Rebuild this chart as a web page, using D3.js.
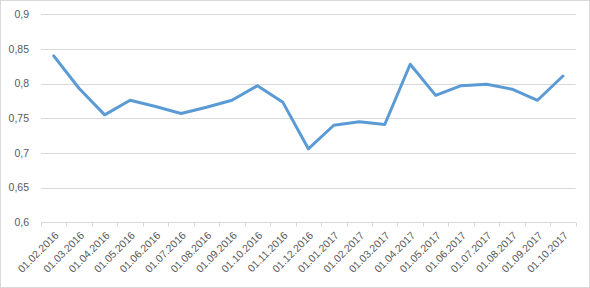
<!DOCTYPE html>
<html>
<head>
<meta charset="utf-8">
<script src="https://cdn.jsdelivr.net/npm/d3@7"></script>
<style>
  body { margin: 0; background: #fff; }
  svg { display: block; font-family: "Liberation Sans", Arial, sans-serif; }
</style>
</head>
<body>
<svg id="chart" width="590" height="288"></svg>
<script>
// categories (first day of each month)
const dates = [
  "01.02.2016", "01.03.2016", "01.04.2016", "01.05.2016", "01.06.2016",
  "01.07.2016", "01.08.2016", "01.09.2016", "01.10.2016", "01.11.2016",
  "01.12.2016", "01.01.2017", "01.02.2017", "01.03.2017", "01.04.2017",
  "01.05.2017", "01.06.2017", "01.07.2017", "01.08.2017", "01.09.2017",
  "01.10.2017"
];
const values = [
  0.840, 0.793, 0.755, 0.776, 0.767,
  0.757, 0.766, 0.776, 0.797, 0.773,
  0.706, 0.740, 0.745, 0.741, 0.828,
  0.783, 0.797, 0.799, 0.792, 0.776,
  0.811
];
const yTicks = [0.6, 0.65, 0.7, 0.75, 0.8, 0.85, 0.9];

const svg = d3.select("#chart");
const width = 590, height = 288;
const margin = { top: 14.3, right: 14.3, bottom: 65.7, left: 41 };

// chart border
svg.append("rect")
  .attr("x", 0.5).attr("y", 0.5)
  .attr("width", width - 1).attr("height", height - 1)
  .attr("fill", "#fff")
  .attr("stroke", "#d9d9d9");

const x = d3.scaleBand()
  .domain(dates)
  .range([margin.left, width - margin.right])
  .paddingInner(0).paddingOuter(0);

const y = d3.scaleLinear()
  .domain([0.6, 0.9])
  .range([height - margin.bottom, margin.top]);

const fmt = d3.formatLocale({ decimal: ",", thousands: " ", grouping: [3], currency: ["", ""] }).format("~g");

// gridlines
svg.append("g")
  .selectAll("line")
  .data(yTicks.slice(1))
  .join("line")
  .attr("x1", margin.left).attr("x2", width - margin.right)
  .attr("y1", d => Math.round(y(d)) + 0.5).attr("y2", d => Math.round(y(d)) + 0.5)
  .attr("stroke", "#d9d9d9");

// y labels
svg.append("g")
  .selectAll("text")
  .data(yTicks)
  .join("text")
  .attr("x", 29)
  .attr("y", d => y(d))
  .attr("dy", "0.35em")
  .attr("text-anchor", "end")
  .attr("font-size", "10.5px")
  .attr("fill", "#595959")
  .text(d => fmt(d));

// x axis line + ticks at category boundaries
const y0 = Math.round(y(0.6)) + 0.5;
const xAxis = svg.append("g");
xAxis.append("line")
  .attr("x1", margin.left).attr("x2", width - margin.right)
  .attr("y1", y0).attr("y2", y0)
  .attr("stroke", "#d9d9d9");
xAxis.selectAll("line.tick")
  .data(dates.map(d => x(d)).concat([x.range()[1]]))
  .join("line")
  .attr("class", "tick")
  .attr("x1", d => Math.round(d) + 0.5).attr("x2", d => Math.round(d) + 0.5)
  .attr("y1", y0).attr("y2", y0 + 4)
  .attr("stroke", "#d9d9d9");

xAxis.selectAll("text")
  .data(dates)
  .join("text")
  .attr("transform", d => `translate(${x(d) + x.bandwidth() / 2 + 3},${y0 + 11}) rotate(-45)`)
  .attr("text-anchor", "end")
  .attr("dy", "0.35em")
  .attr("font-size", "10.5px")
  .attr("fill", "#595959")
  .text(d => d);

// the line
const line = d3.line()
  .x((d, i) => x(dates[i]) + x.bandwidth() / 2)
  .y(d => y(d));

svg.append("path")
  .datum(values)
  .attr("d", line)
  .attr("fill", "none")
  .attr("stroke", "#5b9bd5")
  .attr("stroke-width", 3)
  .attr("stroke-linejoin", "round")
  .attr("stroke-linecap", "round");
</script>
</body>
</html>
